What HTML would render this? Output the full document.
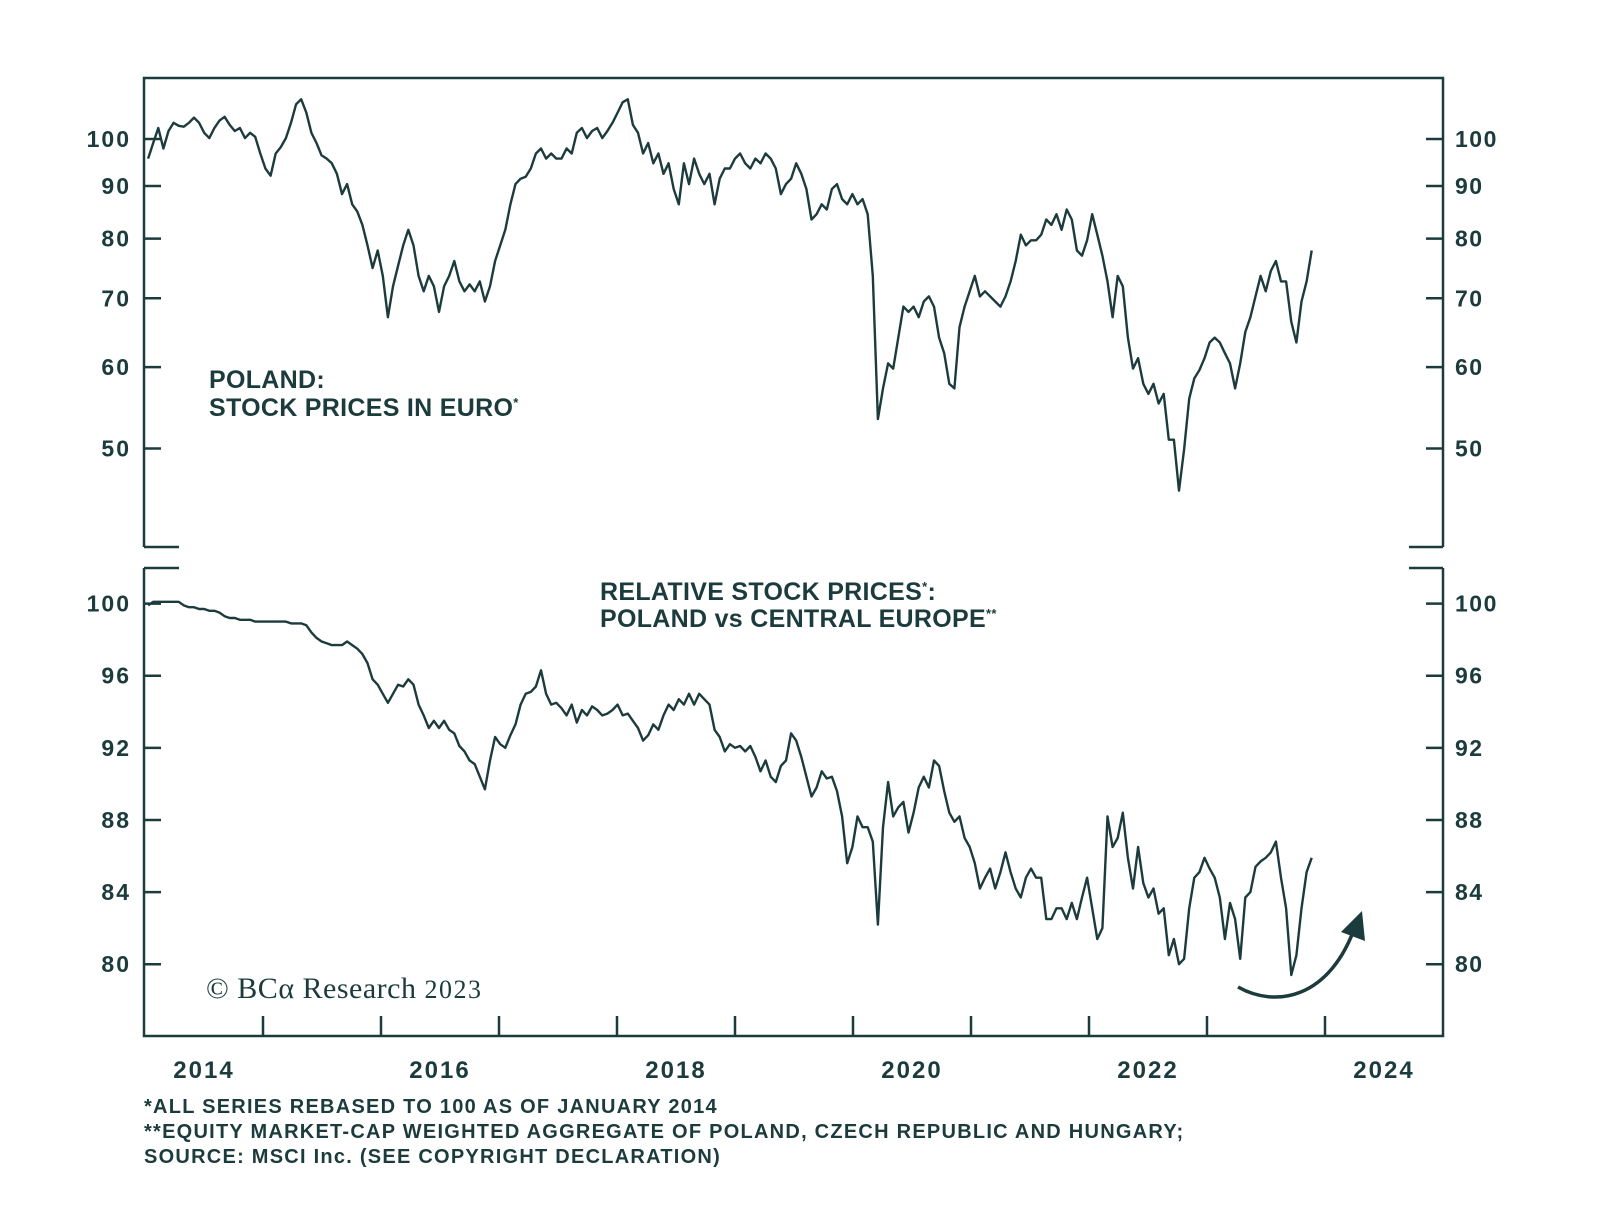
<!DOCTYPE html>
<html><head><meta charset="utf-8">
<style>
html,body{margin:0;padding:0;background:#fff;}
svg{display:block;}
text{font-family:"Liberation Sans",sans-serif;fill:#1c3b3c;}
</style></head>
<body>
<svg id="chart" width="1600" height="1214" viewBox="0 0 1600 1214" xmlns="http://www.w3.org/2000/svg">
<g id="frame" stroke="#1c3b3c" stroke-width="2.5" fill="none">
  <path d="M144,547 V78 H1443 V547"/>
  <path d="M144,547 H179"/>
  <path d="M1409,547 H1443"/>
  <path d="M144,568 V1036 H1443 V568"/>
  <path d="M144,568 H179"/>
  <path d="M1409,568 H1443"/>
</g>
<g id="axes"></g>
<path id="topLine" fill="none" stroke="#1c3b3c" stroke-width="2.4" stroke-linejoin="round"/>
<path id="botLine" fill="none" stroke="#1c3b3c" stroke-width="2.4" stroke-linejoin="round"/>
<text x="209" y="388" font-size="25" font-weight="bold" letter-spacing="0.3">POLAND:</text>
<text x="209" y="416" font-size="25" font-weight="bold" letter-spacing="0.3">STOCK PRICES IN EURO<tspan font-size="13" dy="-9">*</tspan></text>
<text x="600" y="600" font-size="25" font-weight="bold" letter-spacing="0.3">RELATIVE STOCK PRICES<tspan font-size="13" dy="-9">*</tspan><tspan dy="9">:</tspan></text>
<text x="600" y="627" font-size="25" font-weight="bold" letter-spacing="0.3">POLAND vs CENTRAL EUROPE<tspan font-size="13" dy="-9">**</tspan></text>
<text x="206" y="998" font-size="30" letter-spacing="0.5" style="font-family:'Liberation Serif',serif">© BCα Research <tspan font-size="26" letter-spacing="1.5">2023</tspan></text>
<path d="M1238,987 C1275,1008 1330,1000 1356,924" fill="none" stroke="#1c3b3c" stroke-width="3.5"/>
<polygon points="1362,911 1341,932 1365,941" fill="#1c3b3c"/>
<text x="144" y="1113" font-size="20" font-weight="bold" letter-spacing="1.25">*ALL SERIES REBASED TO 100 AS OF JANUARY 2014</text>
<text x="144" y="1138" font-size="20" font-weight="bold" letter-spacing="1.25">**EQUITY MARKET-CAP WEIGHTED AGGREGATE OF POLAND, CZECH REPUBLIC AND HUNGARY;</text>
<text x="144" y="1163" font-size="20" font-weight="bold" letter-spacing="1.25">SOURCE: MSCI Inc. (SEE COPYRIGHT DECLARATION)</text>
</svg>
<script>
// ---- data ----
const startYear = 2014.026;
const stepYears = 0.04325;
const polandPrices = [95.7,99.1,102.5,97.9,101.8,103.7,103.0,102.8,103.7,104.9,103.7,101.4,100.2,102.5,104.2,105.1,103.2,101.8,102.5,100.2,101.4,100.5,96.8,93.6,92.1,96.8,98.2,100.2,103.7,108.1,109.3,106.1,101.4,99.1,96.4,95.7,94.7,92.5,88.4,90.4,86.4,85.0,82.5,78.8,74.9,77.9,73.6,67.1,71.9,75.3,78.8,81.6,78.8,73.6,71.1,73.6,71.9,67.9,71.9,73.6,76.1,72.7,71.1,72.2,71.1,72.7,69.5,71.9,76.1,78.8,81.6,86.4,90.4,91.5,91.9,93.6,96.8,97.9,95.7,96.8,95.7,95.7,97.9,96.8,101.4,102.5,100.2,101.8,102.5,100.2,101.8,103.7,106.1,108.6,109.3,103.2,101.4,96.8,99.1,94.7,96.8,92.5,94.7,89.4,86.4,94.7,90.4,95.7,92.5,90.4,92.5,86.4,91.5,93.6,93.6,95.7,96.8,94.7,93.6,95.7,94.7,96.8,95.7,93.6,88.4,90.4,91.5,94.7,92.5,89.4,83.5,84.5,86.4,85.4,89.4,90.4,87.4,86.4,88.4,86.4,87.4,84.5,73.6,53.4,57.2,60.5,59.8,64.1,68.7,67.9,68.7,67.1,69.5,70.3,68.7,64.1,61.9,57.8,57.2,65.6,68.7,71.1,73.6,70.3,71.1,70.3,69.5,68.7,70.3,72.7,76.1,80.7,78.8,79.7,79.7,80.7,83.5,82.5,84.5,81.6,85.4,83.5,77.9,77.0,79.7,84.5,80.7,77.0,72.7,67.1,73.6,71.9,64.1,59.8,61.2,57.8,56.5,57.8,55.3,56.5,51.0,51.0,45.5,49.9,55.9,58.5,59.6,61.2,63.4,64.1,63.4,61.9,60.5,57.2,60.5,64.9,67.1,70.3,73.6,71.1,74.4,76.1,72.7,72.7,66.4,63.4,69.5,72.7,77.9];
const relativePrices = [99.9,100.1,100.1,100.1,100.1,100.1,100.1,99.9,99.8,99.8,99.7,99.7,99.6,99.6,99.5,99.3,99.2,99.2,99.1,99.1,99.1,99.0,99.0,99.0,99.0,99.0,99.0,99.0,98.9,98.9,98.9,98.8,98.4,98.1,97.9,97.8,97.7,97.7,97.7,97.9,97.7,97.5,97.2,96.7,95.8,95.5,95.0,94.5,95.0,95.5,95.4,95.8,95.5,94.4,93.8,93.1,93.5,93.1,93.5,93.0,92.8,92.1,91.8,91.3,91.1,90.4,89.7,91.3,92.6,92.2,92.0,92.7,93.3,94.4,95.0,95.1,95.4,96.3,95.0,94.4,94.5,94.2,93.8,94.4,93.4,94.1,93.8,94.3,94.1,93.8,93.9,94.1,94.4,93.8,93.9,93.5,93.1,92.4,92.7,93.3,93.0,93.8,94.4,94.1,94.7,94.4,95.0,94.4,95.0,94.7,94.4,93.0,92.6,91.8,92.2,92.0,92.1,91.8,92.1,91.5,90.7,91.3,90.4,90.1,91.0,91.3,92.8,92.4,91.5,90.4,89.3,89.8,90.7,90.3,90.4,89.6,88.2,85.6,86.5,88.2,87.6,87.6,86.8,82.2,87.6,90.1,88.2,88.7,89.0,87.3,88.4,89.8,90.4,89.8,91.3,91.0,89.6,88.4,87.9,88.2,87.0,86.5,85.6,84.2,84.8,85.3,84.2,85.1,86.2,85.1,84.2,83.7,84.8,85.3,84.8,84.8,82.5,82.5,83.1,83.1,82.5,83.4,82.5,83.7,84.8,83.1,81.4,82.0,88.2,86.5,87.0,88.4,85.9,84.2,86.5,84.5,83.7,84.2,82.8,83.1,80.5,81.4,80.0,80.3,83.1,84.8,85.1,85.9,85.3,84.8,83.7,81.4,83.4,82.5,80.3,83.7,84.0,85.4,85.7,85.9,86.2,86.8,84.8,83.1,79.4,80.5,83.1,85.1,85.9];
const topTicks = [100,90,80,70,60,50];
const bottomTicks = [100,96,92,88,84,80];
const yearLabels = [2014,2016,2018,2020,2022,2024];
const yearTicks = [2015,2016,2017,2018,2019,2020,2021,2022,2023,2024];

// ---- scales ----
const C = '#1c3b3c';
const xOf = y => 145 + (y - 2014) * 118.0;
const yTop = v => 139 + Math.log2(100 / v) * 309.5;
const yBot = v => 603.6 + (100 - v) * 18.03;
const NS = 'http://www.w3.org/2000/svg';
const axes = document.getElementById('axes');
function mk(tag, attrs){const e=document.createElementNS(NS,tag);for(const k in attrs)e.setAttribute(k,attrs[k]);axes.appendChild(e);return e;}

function drawY(ticks, yf, panel){
  ticks.forEach(t=>{
    const y=yf(t);
    const l=mk('line',{x1:144,x2:161,y1:y,y2:y,stroke:C,'stroke-width':2.5});
    
    
    const r=mk('line',{x1:1426,x2:1443,y1:y,y2:y,stroke:C,'stroke-width':2.5});
    
    
    const tl=mk('text',{x:131,y:y+8,'text-anchor':'end','font-size':23,'font-weight':'bold','letter-spacing':2});
    tl.textContent=t;
    
    
    const tr=mk('text',{x:1455,y:y+8,'font-size':23,'font-weight':'bold','letter-spacing':1.5});
    tr.textContent=t;
    
    
  });
}
drawY(topTicks, yTop, 'top-y');
drawY(bottomTicks, yBot, 'bottom-y');

yearTicks.forEach(yr=>{
  const x=xOf(yr);
  const t=mk('line',{x1:x,x2:x,y1:1016,y2:1036,stroke:C,'stroke-width':2.5});
  
  
});
yearLabels.forEach(yr=>{
  const t=mk('text',{x:xOf(yr+0.5),y:1078,'text-anchor':'middle','font-size':24,'font-weight':'bold','letter-spacing':2});
  t.textContent=yr;
  
  
});

function path(vals, yf){
  return vals.map((v,i)=>(i?'L':'M')+xOf(startYear+i*stepYears).toFixed(1)+','+yf(v).toFixed(1)).join(' ');
}
document.getElementById('topLine').setAttribute('d', path(polandPrices, yTop));
document.getElementById('botLine').setAttribute('d', path(relativePrices, yBot));
</script>
</body></html>
